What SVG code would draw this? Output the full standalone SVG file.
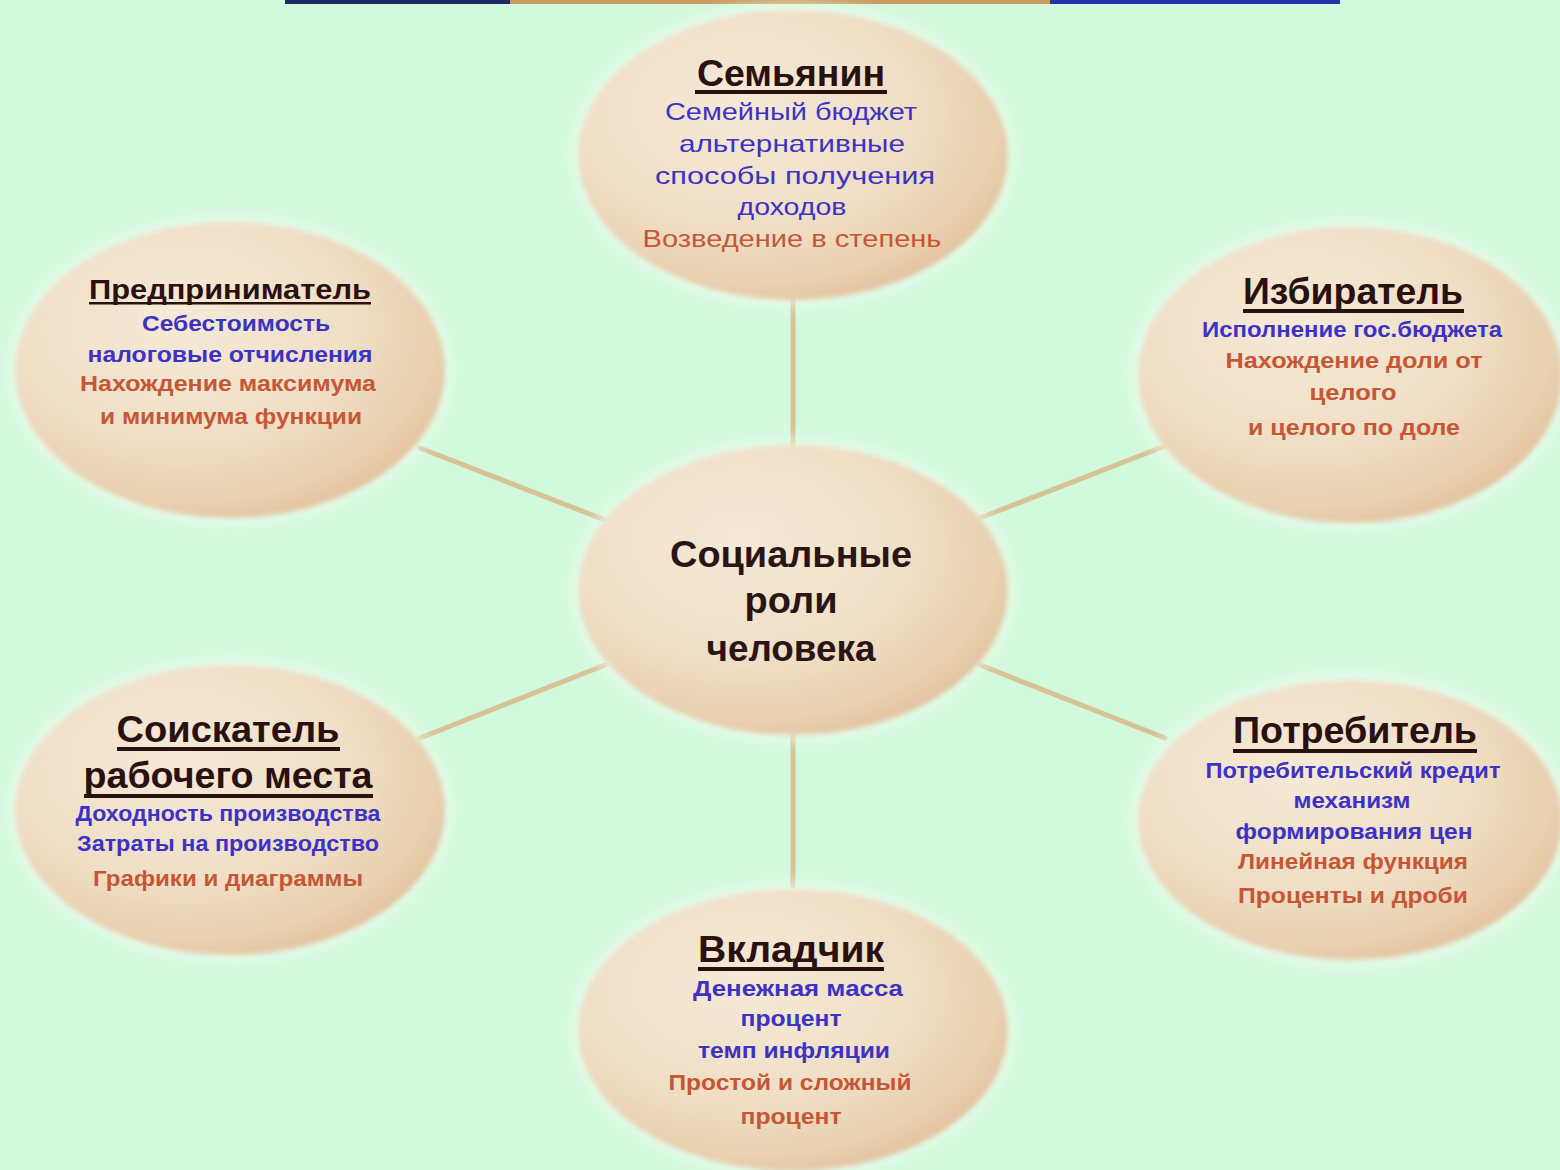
<svg xmlns="http://www.w3.org/2000/svg" width="1560" height="1170" viewBox="0 0 1560 1170">
<defs>
<radialGradient id="egg" cx="0.4" cy="0.38" r="0.78" fx="0.38" fy="0.32">
<stop offset="0" stop-color="#f5e9d7"/>
<stop offset="0.5" stop-color="#f0dfc6"/>
<stop offset="0.75" stop-color="#e9d0b0"/>
<stop offset="1" stop-color="#d9b189"/>
</radialGradient>
<filter id="soft" x="-10%" y="-10%" width="120%" height="120%">
<feGaussianBlur stdDeviation="2.5"/>
</filter>
<filter id="glow" x="-20%" y="-20%" width="140%" height="140%">
<feGaussianBlur stdDeviation="8"/>
</filter>
</defs>
<style>
.bg{fill:#d3f9dd}
.halo{fill:#eefcf0;opacity:0.7}
.egg{fill:url(#egg)}
.con{stroke:#d6c297;stroke-width:5;fill:none;stroke-linecap:round}
text{font-family:"Liberation Sans",Arial,sans-serif;text-anchor:middle}
.h{font-weight:bold;fill:#2b1010;font-size:36px}
.hs{font-weight:bold;fill:#2b1010;font-size:28px}
.c{font-weight:bold;fill:#2b1414;font-size:37px}
.b{fill:#3d32c6;font-size:24px}
.r{fill:#c65634;font-size:24px}
.bb{fill:#3d32c6;font-size:22px;font-weight:bold}
.rb{fill:#c65634;font-size:22px;font-weight:bold}
.ul{fill:#2b1010}
</style>
<rect class="bg" x="0" y="0" width="1560" height="1170"/>
<g id="title-remnant">
<rect x="285" y="0" width="225" height="4" fill="#1c2a66"/>
<rect x="510" y="0" width="540" height="4" fill="#c99a5a"/>
<rect x="1050" y="0" width="290" height="4" fill="#2233aa"/>
</g>
<g id="connectors">
<line class="con" x1="793" y1="298" x2="793" y2="447"/>
<line class="con" x1="793" y1="735" x2="793" y2="886"/>
<line class="con" x1="420" y1="448" x2="605" y2="520"/>
<line class="con" x1="980" y1="518" x2="1165" y2="446"/>
<line class="con" x1="420" y1="738" x2="605" y2="665"/>
<line class="con" x1="980" y1="665" x2="1165" y2="738"/>
</g>
<g id="n-center">
<ellipse class="halo" cx="793" cy="590" rx="222" ry="152" filter="url(#glow)"/>
<ellipse class="egg" cx="793" cy="590" rx="215" ry="145" filter="url(#soft)"/>
<text class="c" x="791" y="567" textLength="242" lengthAdjust="spacingAndGlyphs">Социальные</text>
<text class="c" x="791" y="613" textLength="93" lengthAdjust="spacingAndGlyphs">роли</text>
<text class="c" x="791" y="661" textLength="169" lengthAdjust="spacingAndGlyphs">человека</text>
</g>
<g id="n-semyanin">
<ellipse class="halo" cx="793" cy="155" rx="222" ry="152" filter="url(#glow)"/>
<ellipse class="egg" cx="793" cy="155" rx="215" ry="145" filter="url(#soft)"/>
<text class="h" x="791" y="86" textLength="188" lengthAdjust="spacingAndGlyphs">Семьянин</text>
<rect class="ul" x="695" y="90" width="192" height="4"/>
<text class="b" x="791" y="120" textLength="252" lengthAdjust="spacingAndGlyphs">Семейный бюджет</text>
<text class="b" x="792" y="152" textLength="226" lengthAdjust="spacingAndGlyphs">альтернативные</text>
<text class="b" x="795" y="184" textLength="280" lengthAdjust="spacingAndGlyphs">способы получения</text>
<text class="b" x="792" y="215" textLength="109" lengthAdjust="spacingAndGlyphs">доходов</text>
<text class="r" x="792" y="247" textLength="299" lengthAdjust="spacingAndGlyphs">Возведение в степень</text>
</g>
<g id="n-predprinimatel">
<ellipse class="halo" cx="230" cy="370" rx="222" ry="155" filter="url(#glow)"/>
<ellipse class="egg" cx="230" cy="370" rx="215" ry="148" filter="url(#soft)"/>
<text class="hs" x="230" y="299" textLength="282" lengthAdjust="spacingAndGlyphs">Предприниматель</text>
<rect class="ul" x="89" y="302" width="282" height="2.5"/>
<text class="bb" x="236" y="331" textLength="188" lengthAdjust="spacingAndGlyphs">Себестоимость</text>
<text class="bb" x="230" y="362" textLength="285" lengthAdjust="spacingAndGlyphs">налоговые отчисления</text>
<text class="rb" x="228" y="391" textLength="296" lengthAdjust="spacingAndGlyphs">Нахождение максимума</text>
<text class="rb" x="231" y="424" textLength="262" lengthAdjust="spacingAndGlyphs">и минимума функции</text>
</g>
<g id="n-izbiratel">
<ellipse class="halo" cx="1350" cy="375" rx="220" ry="155" filter="url(#glow)"/>
<ellipse class="egg" cx="1350" cy="375" rx="212" ry="148" filter="url(#soft)"/>
<text class="h" x="1353" y="304" textLength="220" lengthAdjust="spacingAndGlyphs">Избиратель</text>
<rect class="ul" x="1243" y="309" width="221" height="4"/>
<text class="bb" x="1352" y="337" textLength="300" lengthAdjust="spacingAndGlyphs">Исполнение гос.бюджета</text>
<text class="rb" x="1354" y="368" textLength="257" lengthAdjust="spacingAndGlyphs">Нахождение доли от</text>
<text class="rb" x="1353" y="400" textLength="87" lengthAdjust="spacingAndGlyphs">целого</text>
<text class="rb" x="1354" y="435" textLength="212" lengthAdjust="spacingAndGlyphs">и целого по доле</text>
</g>
<g id="n-soiskatel">
<ellipse class="halo" cx="230" cy="810" rx="222" ry="152" filter="url(#glow)"/>
<ellipse class="egg" cx="230" cy="810" rx="215" ry="145" filter="url(#soft)"/>
<text class="h" x="228" y="742" textLength="223" lengthAdjust="spacingAndGlyphs">Соискатель</text>
<rect class="ul" x="117" y="747" width="223" height="4"/>
<text class="h" x="228" y="788" textLength="289" lengthAdjust="spacingAndGlyphs">рабочего места</text>
<rect class="ul" x="84" y="794" width="289" height="4"/>
<text class="bb" x="228" y="821" textLength="305" lengthAdjust="spacingAndGlyphs">Доходность производства</text>
<text class="bb" x="228" y="851" textLength="302" lengthAdjust="spacingAndGlyphs">Затраты на производство</text>
<text class="rb" x="228" y="886" textLength="270" lengthAdjust="spacingAndGlyphs">Графики и диаграммы</text>
</g>
<g id="n-potrebitel">
<ellipse class="halo" cx="1350" cy="820" rx="220" ry="148" filter="url(#glow)"/>
<ellipse class="egg" cx="1350" cy="820" rx="212" ry="140" filter="url(#soft)"/>
<text class="h" x="1355" y="743" textLength="244" lengthAdjust="spacingAndGlyphs">Потребитель</text>
<rect class="ul" x="1233" y="749" width="244" height="4"/>
<text class="bb" x="1353" y="778" textLength="295" lengthAdjust="spacingAndGlyphs">Потребительский кредит</text>
<text class="bb" x="1352" y="808" textLength="117" lengthAdjust="spacingAndGlyphs">механизм</text>
<text class="bb" x="1354" y="839" textLength="237" lengthAdjust="spacingAndGlyphs">формирования цен</text>
<text class="rb" x="1353" y="869" textLength="230" lengthAdjust="spacingAndGlyphs">Линейная функция</text>
<text class="rb" x="1353" y="903" textLength="230" lengthAdjust="spacingAndGlyphs">Проценты и дроби</text>
</g>
<g id="n-vkladchik">
<ellipse class="halo" cx="793" cy="1030" rx="222" ry="148" filter="url(#glow)"/>
<ellipse class="egg" cx="793" cy="1030" rx="215" ry="141" filter="url(#soft)"/>
<text class="h" x="791" y="962" textLength="186" lengthAdjust="spacingAndGlyphs">Вкладчик</text>
<rect class="ul" x="698" y="967" width="186" height="4"/>
<text class="bb" x="798" y="996" textLength="210" lengthAdjust="spacingAndGlyphs">Денежная масса</text>
<text class="bb" x="791" y="1026" textLength="101" lengthAdjust="spacingAndGlyphs">процент</text>
<text class="bb" x="794" y="1058" textLength="192" lengthAdjust="spacingAndGlyphs">темп инфляции</text>
<text class="rb" x="790" y="1090" textLength="243" lengthAdjust="spacingAndGlyphs">Простой и сложный</text>
<text class="rb" x="791" y="1124" textLength="101" lengthAdjust="spacingAndGlyphs">процент</text>
</g>
</svg>
